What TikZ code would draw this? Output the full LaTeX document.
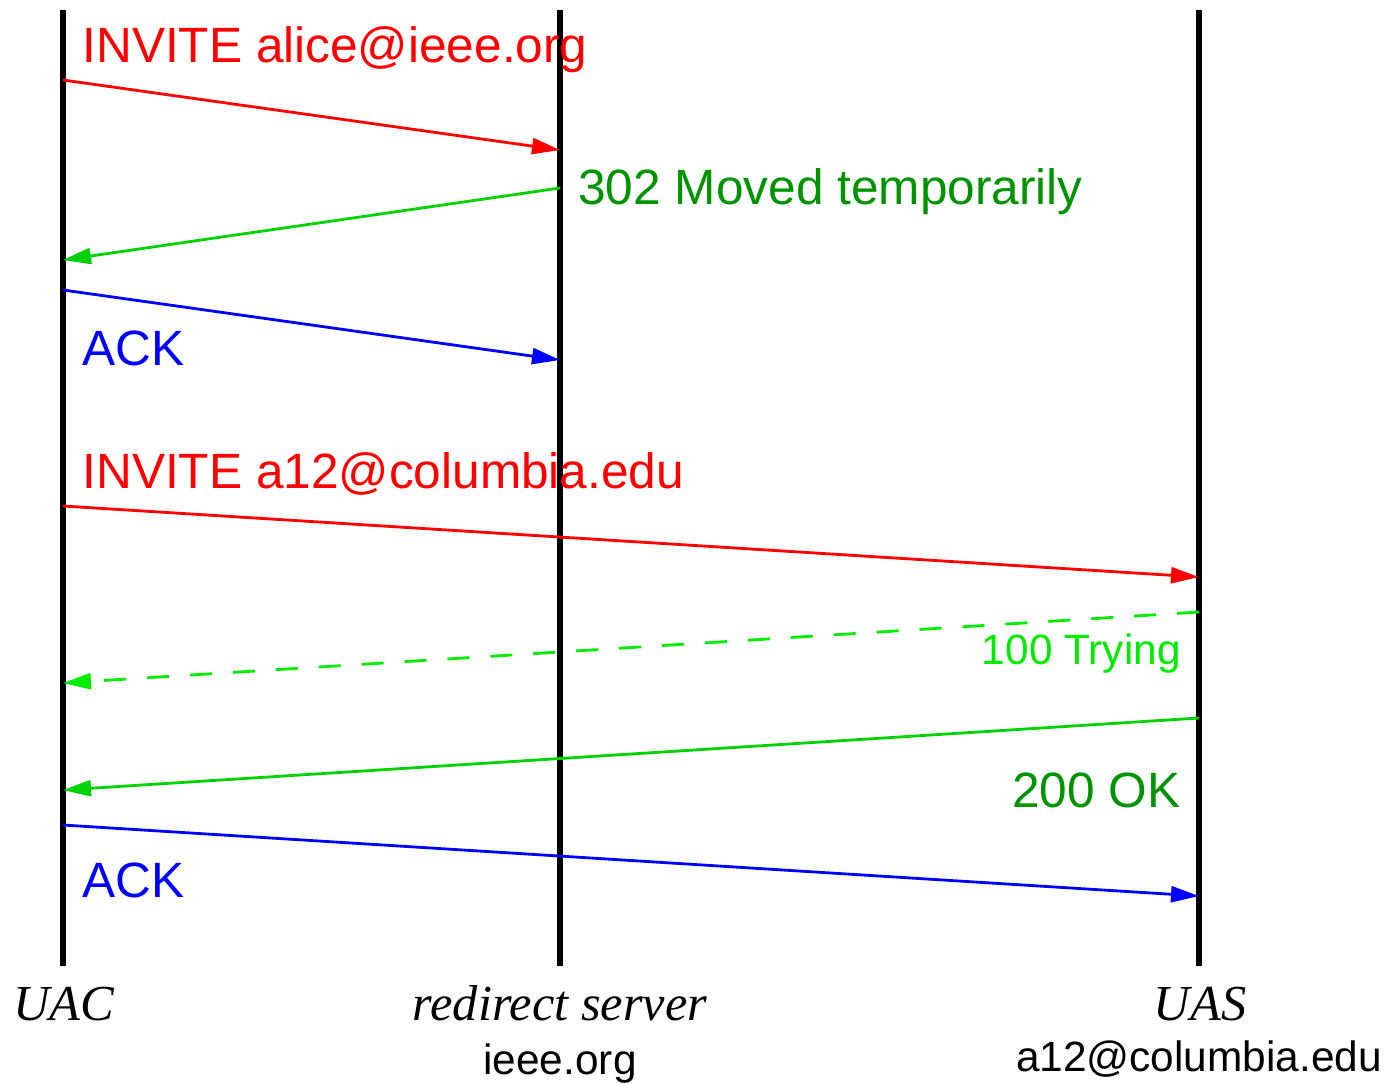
\documentclass[tikz,border=0pt]{standalone}
\usepackage{fontspec}
\setmainfont{Liberation Serif}
\setsansfont{Liberation Sans}
\usetikzlibrary{arrows.meta}

\definecolor{msgred}{rgb}{1,0,0}
\definecolor{msgblue}{rgb}{0,0,1}
\definecolor{msggreen}{rgb}{0,0.82,0}
\definecolor{txtgreen}{rgb}{0,0.58,0}
\definecolor{tryinggreen}{rgb}{0,0.93,0}

\begin{document}
\begin{tikzpicture}[x=0.5pt,y=-0.5pt,
	msg/.style={line width=1.4pt,-{Triangle[length=14pt,width=8pt]}},
	lbl/.style={inner sep=0pt,font=\sffamily\fontsize{24.8}{28}\selectfont},
	small/.style={inner sep=0pt,font=\sffamily\fontsize{21.2}{25}\selectfont},
	party/.style={inner sep=0pt,font=\itshape\fontsize{25.2}{30}\selectfont}]
	\useasboundingbox (0,0) rectangle (1388,1083);
	\def\ltop{10}
	\def\lbot{966}
	% lifelines
	\foreach \n/\x in {uac/63,rs/560,uas/1199}{
		\draw[line width=2.8pt] (\x,\ltop) -- (\x,\lbot);
		\coordinate (\n) at (\x,0);
	}
	% message ends
	\coordinate (a1) at (63,80);   \coordinate (b1) at (560,150);
	\coordinate (a2) at (560,188); \coordinate (b2) at (63,260);
	\coordinate (a3) at (63,290);  \coordinate (b3) at (560,360);
	\coordinate (a4) at (63,506);  \coordinate (b4) at (1199,577);
	\coordinate (a5) at (1199,612);\coordinate (b5) at (63,683);
	\coordinate (a6) at (1199,718);\coordinate (b6) at (63,790);
	\coordinate (a7) at (63,825);  \coordinate (b7) at (1199,896);

	\draw[msg,msgred] (a1) -- (b1);
	\draw[msg,msggreen] (a2) -- (b2);
	\draw[msg,msgblue] (a3) -- (b3);
	\draw[msg,msgred] (a4) -- (b4);
	\draw[msg,tryinggreen,dash pattern=on 11pt off 10.5pt] (a5) -- (b5);
	\draw[msg,msggreen] (a6) -- (b6);
	\draw[msg,msgblue] (a7) -- (b7);

	\node[lbl,msgred,anchor=base west] (inv1) at (82,62) {INVITE alice@ieee.org};
	\node[lbl,txtgreen,anchor=base west] (moved) at (578,204) {302 Moved temporarily};
	\node[lbl,msgblue,anchor=base west] (ack1) at (82,365) {ACK};
	\node[lbl,msgred,anchor=base west] (inv2) at (82,488) {INVITE a12@columbia.edu};
	\node[small,tryinggreen,anchor=base east] (trying) at (1181,664) {100 Trying};
	\node[lbl,txtgreen,anchor=base east] (ok) at (1181,807) {200 OK};
	\node[lbl,msgblue,anchor=base west] (ack2) at (82,897) {ACK};

	% parties
	\node[party,anchor=base] (uacname) at (64,1020) {UAC};
	\node[party,anchor=base] (rsname) at (560,1020) {redirect server};
	\node[party,anchor=base] (uasname) at (1200,1020) {UAS};
	\node[small,anchor=base] (rsaddr) at (560,1074) {ieee.org};
	\node[small,anchor=base] (uasaddr) at (1199,1071) {a12@columbia.edu};
\end{tikzpicture}
\end{document}
